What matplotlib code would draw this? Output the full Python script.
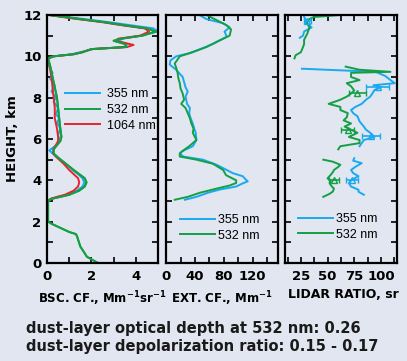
import numpy as np
import matplotlib.pyplot as plt
from matplotlib.ticker import MultipleLocator

plt.rcParams['font.family'] = ['DejaVu Sans']
plt.rcParams['font.weight'] = 'bold'

BLUE = '#1aa9ee'
GREEN = '#13a045'
RED = '#e8242b'
BG = '#e1e6f0'

# backscatter coefficient, Mm-1 sr-1
bsc532_h = [0, 0.3, 0.8, 1.3, 1.4, 1.5, 1.7, 1.9, 2.0, 2.5, 3.0, 3.1, 3.2, 3.3, 3.5, 3.7, 3.9,
            4.1, 4.3, 4.5, 4.8, 5.1, 5.3, 5.5, 5.7, 5.9, 6.1, 6.5, 7.0, 7.5, 8.0, 8.5, 9.0, 9.5,
            9.9, 10.0, 10.1, 10.2, 10.35, 10.45, 10.6, 10.75, 10.85, 11.0, 11.2, 11.35, 11.5,
            11.65, 11.8, 11.9, 12.0]
bsc532_v = [2.3, 1.8, 1.5, 1.35, 1.3, 1.0, 0.6, 0.2, 0.05, 0.05, 0.05, 0.2, 0.6, 1.0, 1.45,
            1.7, 1.78, 1.7, 1.45, 1.2, 0.85, 0.5, 0.3, 0.3, 0.45, 0.6, 0.65, 0.6, 0.55, 0.5,
            0.45, 0.35, 0.25, 0.15, 0.05, 0.3, 1.2, 1.6, 2.0, 3.6, 3.5, 3.0, 3.3, 4.3, 4.9,
            4.5, 3.5, 2.6, 1.5, 0.8, 0.1]
bsc355_h = [3.0, 3.1, 3.2, 3.3, 3.5, 3.7, 3.9, 4.1, 4.3, 4.5, 4.8, 5.1, 5.3, 5.45, 5.6, 5.8,
            6.0, 6.2, 6.5, 6.8, 7.0, 7.2, 7.5, 7.8, 8.0, 8.3, 8.6, 8.9, 9.2, 9.5, 9.9, 10.0,
            10.1, 10.2, 10.35, 10.45, 10.6, 10.75, 10.85, 11.0, 11.2, 11.35, 11.5, 11.65,
            11.8, 11.9, 12.0]
bsc355_v = [0.05, 0.15, 0.5, 0.9, 1.35, 1.6, 1.68, 1.6, 1.4, 1.15, 0.85, 0.45, 0.25, 0.1,
            0.3, 0.5, 0.55, 0.5, 0.6, 0.45, 0.55, 0.4, 0.5, 0.3, 0.4, 0.2, 0.35, 0.15, 0.25,
            0.1, 0.05, 0.3, 1.1, 1.5, 2.1, 3.5, 3.6, 3.2, 3.4, 4.2, 5.0, 4.8, 3.8, 2.8, 1.7,
            0.9, 0.1]
bsc1064_h = [3.0, 3.1, 3.2, 3.3, 3.5, 3.7, 3.9, 4.1, 4.3, 4.5, 4.8, 5.1, 5.3, 5.5, 5.7,
             5.9, 6.1, 6.5, 7.0, 7.5, 8.0, 8.5, 9.0, 9.5, 9.9, 10.0, 10.1, 10.2, 10.35, 10.45,
             10.55, 10.75, 10.85, 11.0, 11.2, 11.35, 11.5, 11.65, 11.8, 11.9, 12.0]
bsc1064_v = [0.05, 0.15, 0.45, 0.8, 1.2, 1.4, 1.45, 1.4, 1.2, 1.0, 0.75, 0.45, 0.28, 0.28,
             0.4, 0.5, 0.5, 0.45, 0.35, 0.35, 0.3, 0.25, 0.2, 0.12, 0.05, 0.3, 1.2, 1.6, 2.0,
             3.6, 3.9, 3.1, 3.2, 4.2, 4.6, 4.4, 3.4, 2.5, 1.4, 0.7, 0.1]

# extinction coefficient, Mm-1
ext355_h = [3.06, 3.2, 3.4, 3.55, 3.7, 3.85, 3.95, 4.05, 4.2, 4.35, 4.5, 4.75, 5.0, 5.15,
            5.3, 5.4, 5.65, 5.95, 6.3, 6.5, 6.75, 7.0, 7.25, 7.5, 7.7, 8.05, 8.3, 8.5, 8.75,
            9.0, 9.35, 9.6, 9.8, 10.0, 10.15, 10.4, 10.6, 10.95, 11.2, 11.4, 11.6, 11.8, 12.0]
ext355_v = [26, 42, 58, 74, 97, 106, 113, 110, 106, 92, 84, 70, 51, 24, 19, 22, 37, 42, 41,
            39, 37, 34, 32, 33, 29, 27, 30, 27, 25, 23, 14, 5, 6, 14, 32, 51, 65, 84, 81, 88,
            79, 56, 46]
ext532_h = [3.06, 3.2, 3.4, 3.6, 3.75, 3.87, 4.0, 4.25, 4.5, 4.8, 5.0, 5.15, 5.3, 5.45, 5.65,
            5.95, 6.3, 6.5, 6.75, 7.0, 7.25, 7.5, 7.7, 7.9, 8.2, 8.45, 8.7, 8.95, 9.2, 9.45,
            9.65, 10.0, 10.2, 10.45, 10.7, 11.0, 11.3, 11.5, 11.75, 12.0]
ext532_v = [12, 30, 47, 70, 88, 97, 97, 83, 79, 65, 42, 19, 19, 24, 32, 42, 37, 38, 35, 33,
            30, 27, 21, 25, 23, 20, 19, 17, 16, 14, 12, 19, 37, 56, 70, 88, 90, 84, 70, 56]

# lidar ratio, sr (nan = gap)
lr355_h = [3.3, 3.45, 3.54, 3.7, 3.86, 4.0, 4.2, 4.35, 4.5, 4.65, 4.83, 4.95, 5.07, np.nan,
           5.65, 5.8, 5.95, 6.1, 6.3, 6.45, 6.6, 6.85, 7.1, 7.25, 7.4, 7.55, 7.7, 7.9, 8.05,
           8.2, 8.37, 8.5, 8.6, 8.7, 8.85, 9.05, 9.25, 9.4, np.nan, 10.9, 11.0, 11.2, 11.4,
           11.6, 11.75, 11.9, 12.0]
lr355_v = [84, 79, 79, 72, 70, 72, 79, 74, 72, 76, 82, 74, 75, np.nan, 80, 82, 84, 94, 90,
           86, 84, 80, 78, 74, 72, 76, 82, 86, 90, 92, 94, 100, 93, 113, 109, 104, 95, 26,
           np.nan, 24, 27, 28, 35, 30, 30, 28, 28]
lr532_h = [3.2, 3.35, 3.46, 3.6, 3.7, 3.85, 3.95, 4.1, 4.27, 4.4, 4.5, 4.65, 4.75, 4.9, 5.0,
           np.nan, 5.5, 5.65, 5.8, 5.95, 6.1, 6.3, 6.45, 6.6, 6.75, 6.9, 7.05, 7.25, 7.4, 7.55,
           7.7, 7.9, 8.05, 8.2, 8.35, 8.55, 8.7, 8.85, 9.0, 9.2, 9.25, 9.35, 9.5, np.nan, 9.9,
           10.05, 10.2, 10.45, 10.6, 10.8, 11.1, 11.4, 11.6, 11.75, 11.9, 12.0]
lr532_v = [46, 52, 55, 56, 54, 52, 53, 50, 53, 55, 56, 60, 62, 55, 46, np.nan, 60, 62, 80,
           80, 70, 78, 72, 66, 72, 65, 68, 69, 62, 62, 51, 62, 68, 72, 75, 72, 68, 80, 72,
           72, 109, 80, 67, np.nan, 19, 20, 25, 27, 28, 28, 31, 33, 31, 31, 37, 62]

# lidar ratio error bars
eb355_h = [4.0, 6.14, 8.5, 11.7]
eb355_v = [73, 91, 97, 31]
eb355_e = [5.5, 8.5, 11, 3]
eb532_h = [4.0, 6.43, 8.22]
eb532_v = [56, 69, 78]
eb532_e = [4.7, 6, 8]

LEG_FONT = {'family': 'Liberation Sans', 'weight': 'normal', 'size': 9}

fig = plt.figure(figsize=(4.07, 3.61), dpi=100, facecolor=BG)
axes = [fig.add_axes([0.1155, 0.2715, 0.2727, 0.687]),
        fig.add_axes([0.408, 0.2715, 0.2752, 0.687]),
        fig.add_axes([0.700, 0.2715, 0.2752, 0.687])]

for ax in axes:
    ax.set_facecolor(BG)
    ax.set_ylim(0, 12)
    ax.yaxis.set_major_locator(MultipleLocator(2))
    ax.yaxis.set_minor_locator(MultipleLocator(1))
    ax.tick_params(which='both', direction='in', top=True, right=True, length=4.5,
                   width=1.2, labelsize=9.5)
    ax.tick_params(axis='x', pad=5)
    ax.tick_params(axis='y', pad=4)
    for sp in ax.spines.values():
        sp.set_linewidth(1.6)

ax1, ax2, ax3 = axes

ax1.plot(bsc355_v, bsc355_h, color=BLUE, lw=1.4, label='355 nm')
ax1.plot(bsc532_v, bsc532_h, color=GREEN, lw=1.4, label='532 nm')
ax1.plot(bsc1064_v, bsc1064_h, color=RED, lw=1.4, label='1064 nm')
ax1.plot(bsc532_v, bsc532_h, color=GREEN, lw=1.4)
ax1.set_xlim(0, 5)
ax1.xaxis.set_major_locator(MultipleLocator(2))
ax1.xaxis.set_minor_locator(MultipleLocator(1))
ax1.set_ylabel('HEIGHT, km', fontsize=9.5, fontweight='bold', labelpad=3)
ax1.set_xlabel('BSC. CF., Mm$^{\\mathbf{-1}}$sr$^{\\mathbf{-1}}$', fontsize=8.5,
               fontweight='bold', labelpad=5)
ax1.legend(loc='upper left', bbox_to_anchor=(0.12, 0.725), frameon=False,
           handlelength=2.8, handletextpad=0.55, labelspacing=0.3, borderaxespad=0,
           prop=LEG_FONT)

ax2.plot(ext355_v, ext355_h, color=BLUE, lw=1.4, label='355 nm')
ax2.plot(ext532_v, ext532_h, color=GREEN, lw=1.4, label='532 nm')
ax2.set_xlim(0, 155)
ax2.xaxis.set_major_locator(MultipleLocator(40))
ax2.xaxis.set_minor_locator(MultipleLocator(20))
ax2.set_yticklabels([])
ax2.set_xlabel('EXT. CF., Mm$^{\\mathbf{-1}}$', fontsize=8.5, fontweight='bold', labelpad=5)
ax2.legend(loc='lower left', bbox_to_anchor=(0.08, 0.065), frameon=False,
           handlelength=2.8, handletextpad=0.25, labelspacing=0.3, borderaxespad=0,
           prop=LEG_FONT)

ax3.plot(lr355_v, lr355_h, color=BLUE, lw=1.4, label='355 nm')
ax3.plot(lr532_v, lr532_h, color=GREEN, lw=1.4, label='532 nm')
ax3.errorbar(eb355_v, eb355_h, xerr=eb355_e, fmt='^', color=BLUE, mfc='none', ms=4,
             capsize=2.5, lw=1.2)
ax3.errorbar(eb532_v, eb532_h, xerr=eb532_e, fmt='^', color=GREEN, mfc='none', ms=4,
             capsize=2.5, lw=1.2)
ax3.set_xlim(10, 115)
ax3.xaxis.set_major_locator(MultipleLocator(25))
ax3.xaxis.set_minor_locator(MultipleLocator(12.5))
ax3.set_yticklabels([])
ax3.set_xlabel('LIDAR RATIO, sr', fontsize=9, fontweight='bold')
ax3.xaxis.set_label_coords(0.03, -0.1)
ax3.xaxis.label.set_horizontalalignment('left')
ax3.xaxis.label.set_verticalalignment('top')
ax3.legend(loc='lower left', bbox_to_anchor=(0.07, 0.07), frameon=False,
           handlelength=2.8, handletextpad=0.25, labelspacing=0.3, borderaxespad=0,
           prop=LEG_FONT)

fig.text(0.064, 0.0914, 'dust-layer optical depth at 532 nm: 0.26', fontsize=10.5,
         fontweight='bold', color='#1a1a1a', va='center')
fig.text(0.064, 0.0388, 'dust-layer depolarization ratio: 0.15 - 0.17', fontsize=10.5,
         fontweight='bold', color='#1a1a1a', va='center')

fig.savefig('out.png', dpi=100, facecolor=BG)
